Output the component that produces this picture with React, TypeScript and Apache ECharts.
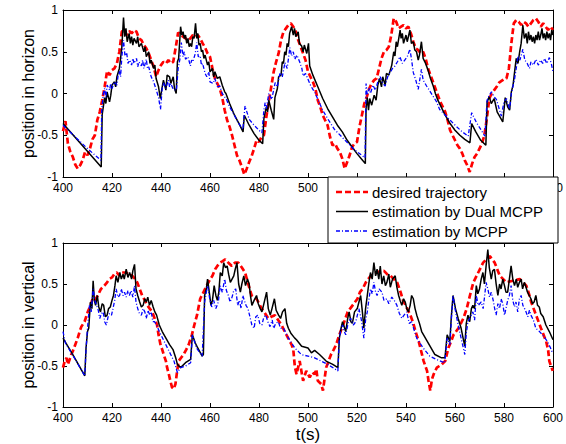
import React, { useEffect, useRef } from "react";
import * as echarts from "echarts";

type P = [number, number];

const xMin = 400, xMax = 600, xStep = 20;
const yMin = -1, yMax = 1, yStep = 0.5;
// top-panel tick labels that the legend box leaves visible
const topVisibleXLabels = [400, 420, 440, 460, 480, 500, 600];

const seriesNames = ["desired trajectory", "estimation by Dual MCPP", "estimation by MCPP"];
const yNames = ["position in horizon", "position in vertical"];
const xName = "t(s)";

// ---- top panel (horizon) ----
const hDesired: P[] = [[400,-0.45],[401,-0.33],[402,-0.6],[403,-0.7],[404,-0.76],[405,-0.85],[406,-0.9],[407,-0.86],[408,-0.8],[409,-0.7],[410,-0.74],[411,-0.66],[412,-0.55],[413,-0.5],[414,-0.32],[415,-0.22],[416,-0.08],[417,0.08],[418,0.27],[419,0.22],[420,0.28],[421,0.3],[422,0.36],[423,0.5],[424,0.74],[425,0.76],[426,0.7],[427,0.75],[428,0.72],[429,0.76],[430,0.74],[431,0.66],[432,0.64],[433,0.58],[434,0.54],[435,0.48],[436,0.4],[437,0.32],[438,0.2],[439,0.28],[440,0.34],[441,0.38],[442,0.36],[443,0.4],[444,0.36],[445,0.38],[446,0.55],[447,0.73],[448,0.7],[449,0.68],[450,0.66],[451,0.64],[452,0.66],[453,0.7],[454,0.68],[455,0.7],[456,0.66],[457,0.6],[458,0.55],[459,0.48],[460,0.44],[461,0.3],[462,0.18],[463,0.12],[464,0.06],[465,-0.05],[466,-0.2],[467,-0.32],[468,-0.4],[469,-0.5],[470,-0.62],[471,-0.74],[472,-0.8],[473,-0.88],[474,-0.97],[475,-0.9],[476,-0.82],[477,-0.75],[478,-0.66],[479,-0.56],[480,-0.58],[481,-0.52],[482,-0.5],[483,-0.28],[484,-0.1],[485,0.08],[486,0.26],[487,0.38],[488,0.48],[489,0.64],[490,0.74],[491,0.78],[492,0.82],[493,0.84],[494,0.8],[495,0.74],[496,0.64],[497,0.56],[498,0.48],[499,0.4],[500,0.26],[501,0.2],[502,0.14],[503,0.06],[504,-0.08],[505,-0.16],[506,-0.26],[507,-0.32],[508,-0.38],[509,-0.52],[510,-0.62],[511,-0.6],[512,-0.66],[513,-0.7],[514,-0.78],[515,-0.9],[516,-0.82],[517,-0.74],[518,-0.64],[519,-0.6],[520,-0.58],[521,-0.4],[522,-0.26],[523,-0.12],[524,-0.04],[525,0.06],[526,0.12],[527,0.16],[528,0.18],[529,0.3],[530,0.42],[531,0.5],[532,0.52],[533,0.56],[534,0.7],[535,0.9],[536,0.86],[537,0.78],[538,0.8],[539,0.82],[540,0.78],[541,0.8],[542,0.72],[543,0.62],[544,0.54],[545,0.52],[546,0.48],[547,0.5],[548,0.42],[549,0.3],[550,0.22],[551,0.14],[552,0.06],[553,-0.02],[554,-0.1],[555,-0.16],[556,-0.22],[557,-0.32],[558,-0.44],[559,-0.5],[560,-0.56],[561,-0.62],[562,-0.66],[563,-0.72],[564,-0.8],[565,-0.86],[566,-0.94],[567,-0.84],[568,-0.76],[569,-0.72],[570,-0.66],[571,-0.6],[572,-0.5],[573,-0.3],[574,-0.06],[575,0.0],[576,0.04],[577,0.08],[578,0.13],[579,0.15],[580,0.17],[581,0.18],[582,0.3],[583,0.6],[584,0.84],[585,0.88],[586,0.86],[587,0.82],[588,0.86],[589,0.84],[590,0.8],[591,0.84],[592,0.88],[593,0.9],[594,0.86],[595,0.8],[596,0.84],[597,0.8],[598,0.76],[599,0.8],[600,0.76]];

const hDual: P[] = [[400,-0.36],[415.6,-0.88],[416,-0.25],[417,-0.05],[417.5,-0.12],[418,0.02],[419,-0.1],[419.5,-0.02],[420,0.1],[421,0.14],[421.5,0.08],[422,0.2],[423,0.3],[423.5,0.42],[424,0.55],[424.7,0.91],[425.2,0.68],[425.7,0.78],[426.2,0.62],[427,0.72],[427.5,0.6],[428,0.68],[428.5,0.58],[429,0.66],[430,0.6],[430.5,0.68],[431,0.56],[432,0.6],[433,0.5],[433.5,0.56],[434,0.44],[435,0.5],[435.5,0.36],[436,0.4],[437,0.3],[437.5,0.34],[438,0.18],[439,0.08],[439.7,-0.06],[440.5,0.08],[441,0.16],[442,0.04],[442.5,0.22],[443.5,0.2],[444,0.12],[445,0.2],[445.5,0.06],[446.2,0.0],[446.7,0.38],[447.2,0.42],[448,0.8],[448.5,0.7],[449,0.74],[449.5,0.66],[450,0.7],[450.5,0.6],[451,0.66],[451.5,0.56],[452,0.6],[452.5,0.56],[453,0.68],[453.5,0.66],[454.1,0.84],[454.6,0.66],[455,0.72],[455.5,0.58],[456,0.6],[456.5,0.5],[457,0.52],[457.5,0.42],[458,0.46],[459,0.34],[459.5,0.38],[460,0.26],[461,0.3],[461.5,0.2],[462,0.26],[463,0.18],[464,0.2],[465,0.1],[466,0.02],[466.5,0.0],[468,-0.12],[470,-0.26],[472,-0.37],[473.5,-0.46],[474,-0.26],[476,-0.38],[478,-0.48],[480,-0.56],[481.5,-0.6],[482,-0.3],[483,-0.16],[483.5,-0.22],[484,-0.08],[485,-0.2],[486,-0.31],[486.5,-0.05],[487.5,0.06],[488,0.2],[489,0.22],[489.5,0.38],[490,0.36],[490.5,0.5],[491,0.46],[491.5,0.6],[492,0.56],[492.5,0.72],[493.3,0.8],[494,0.7],[494.5,0.78],[495,0.68],[496,0.74],[496.5,0.6],[497.4,0.57],[498,0.5],[498.5,0.58],[499.5,0.48],[500.2,0.6],[500.7,0.33],[502,0.22],[504,0.08],[506,-0.06],[508,-0.18],[510,-0.28],[512,-0.38],[514,-0.46],[516,-0.56],[518,-0.64],[520,-0.72],[522,-0.79],[523.4,-0.84],[523.7,-0.18],[524.2,-0.05],[524.7,-0.2],[525.2,-0.06],[526,-0.14],[527,-0.02],[527.8,-0.08],[528.5,0.1],[529.2,0.18],[530,0.08],[530.5,0.2],[531.5,0.1],[532,0.24],[533,0.22],[534.2,0.34],[535,0.5],[535.5,0.45],[536,0.62],[536.5,0.56],[537.6,0.76],[538,0.66],[538.5,0.72],[539,0.6],[540,0.7],[540.5,0.62],[541.6,0.76],[542.2,0.6],[543,0.62],[543.6,0.52],[544.3,0.5],[545,0.4],[545.5,0.46],[546.3,0.62],[547,0.42],[548,0.36],[549,0.28],[550,0.18],[551,0.1],[552,0.0],[553,-0.08],[554,-0.14],[555,-0.2],[556,-0.26],[558,-0.36],[560,-0.44],[562,-0.5],[564,-0.55],[566.1,-0.59],[566.8,-0.36],[568.5,-0.46],[570.5,-0.56],[572.6,-0.62],[573.1,-0.1],[574,-0.04],[574.8,-0.12],[576,-0.06],[577.2,-0.22],[579.5,-0.34],[580.5,-0.05],[581.5,-0.16],[582.3,-0.2],[583,0.02],[583.7,0.1],[584.5,0.3],[585,0.42],[585.7,0.36],[586.4,0.5],[587,0.6],[587.7,0.82],[588.3,0.66],[589,0.72],[589.5,0.6],[590,0.74],[590.5,0.64],[591,0.7],[591.5,0.62],[592,0.68],[592.5,0.6],[593,0.7],[593.5,0.64],[594,0.74],[594.5,0.64],[595,0.7],[595.5,0.78],[596,0.66],[596.5,0.72],[597,0.64],[597.5,0.74],[598,0.66],[598.5,0.72],[599,0.64],[599.5,0.76],[600,0.7]];

const hMcpp: P[] = [[400,-0.38],[405,-0.52],[410,-0.66],[415.5,-0.8],[415.8,-0.2],[416.5,0.0],[417,0.06],[417.5,-0.05],[418,0.1],[419,0.04],[419.5,0.12],[420,0.06],[421,0.14],[422,0.1],[422.5,0.22],[423,0.27],[423.5,0.2],[424,0.43],[424.7,0.64],[425.3,0.45],[426,0.49],[426.5,0.36],[427.3,0.4],[428,0.34],[428.5,0.42],[429,0.36],[430,0.42],[430.5,0.32],[431,0.38],[432,0.33],[432.5,0.4],[433,0.3],[434,0.41],[434.5,0.3],[435,0.32],[436,0.2],[437,0.14],[438,0.05],[439,-0.05],[439.8,-0.19],[440.5,0.06],[441,0.13],[442,0.06],[443,0.16],[443.5,0.08],[444,0.12],[445,0.05],[446.3,0.04],[447,0.3],[447.7,0.41],[448.3,0.61],[449,0.44],[449.5,0.5],[450,0.41],[451,0.44],[452,0.33],[452.5,0.4],[453,0.38],[454,0.48],[454.6,0.61],[455.2,0.44],[456,0.45],[456.5,0.34],[457,0.36],[458,0.24],[458.7,0.2],[459.5,0.26],[460,0.14],[461.3,0.12],[462,0.18],[463,0.08],[464,0.09],[465,0.0],[466.7,-0.07],[468,-0.16],[469.4,-0.23],[471,-0.32],[472,-0.37],[473.4,-0.43],[474.3,-0.15],[476,-0.31],[478,-0.38],[480,-0.44],[481.2,-0.47],[482,-0.2],[482.5,-0.11],[483,-0.18],[484,0.0],[485.2,-0.07],[486.6,0.13],[487.5,0.08],[488.6,0.25],[489.5,0.2],[490.6,0.37],[491.5,0.3],[492.6,0.55],[493.3,0.45],[494,0.5],[494.6,0.41],[495.5,0.46],[496.7,0.37],[497.5,0.3],[498,0.21],[499,0.24],[500,0.17],[501,0.1],[502,0.05],[503,0.0],[504,-0.07],[506,-0.2],[508,-0.3],[510.8,-0.43],[514.8,-0.55],[518.8,-0.67],[523.3,-0.77],[523.7,0.12],[524.2,-0.02],[525,0.06],[525.5,0.0],[526.5,0.1],[527.5,0.04],[528.5,0.14],[529.5,0.2],[530.5,0.12],[531.5,0.09],[532.5,0.2],[533.5,0.25],[534.5,0.3],[535.5,0.33],[536.5,0.38],[537.5,0.44],[538.5,0.36],[539.5,0.4],[540.5,0.44],[541.6,0.53],[542.3,0.4],[543,0.25],[544,0.16],[545,0.05],[546.3,0.29],[547,0.16],[548.4,0.09],[549.5,0.04],[551,-0.03],[552.5,-0.1],[553.7,-0.19],[556.4,-0.27],[558,-0.32],[560.4,-0.39],[563,-0.46],[565.4,-0.51],[566.8,-0.23],[568.8,-0.35],[572.2,-0.51],[573.1,-0.08],[574,-0.02],[574.9,0.02],[576,-0.04],[576.9,-0.07],[578,-0.18],[578.9,-0.27],[580,-0.1],[581,-0.06],[582.3,-0.19],[583,0.0],[584.3,0.17],[585,0.3],[585.7,0.45],[586.5,0.4],[587.7,0.53],[588.5,0.4],[589.5,0.36],[590.4,0.3],[591,0.38],[592,0.34],[593.1,0.41],[594,0.34],[595,0.4],[595.8,0.36],[596.5,0.42],[597.5,0.36],[598.5,0.43],[599.3,0.36],[600,0.26]];

// ---- bottom panel (vertical) ----
const vDesired: P[] = [[400,-0.52],[400.7,-0.44],[401.4,-0.4],[402,-0.48],[402.7,-0.42],[403.4,-0.36],[404,-0.32],[405,-0.24],[406,-0.16],[407,-0.06],[407.5,-0.02],[408.8,0.04],[410.1,0.16],[411,0.22],[412.1,0.32],[413,0.3],[414.2,0.36],[415.5,0.44],[416.9,0.48],[418,0.52],[418.9,0.56],[420,0.58],[420.9,0.62],[422,0.64],[423,0.6],[424,0.64],[425.6,0.64],[427,0.62],[428.3,0.6],[429.5,0.56],[430.3,0.52],[431.3,0.44],[432.3,0.36],[433.4,0.3],[434.4,0.24],[435.4,0.2],[436.4,0.16],[437.4,0.08],[438.4,0.0],[439,-0.12],[439.8,-0.24],[440.5,-0.3],[441.1,-0.36],[442,-0.44],[442.5,-0.52],[443.2,-0.6],[443.8,-0.68],[444.5,-0.76],[445.2,-0.78],[445.9,-0.72],[446.6,-0.56],[447.2,-0.44],[448.2,-0.4],[449.2,-0.36],[450.3,-0.3],[451.3,-0.24],[452.6,-0.12],[453.6,0.0],[454.7,0.12],[456,0.32],[457,0.38],[458,0.44],[459,0.5],[460.1,0.56],[461,0.6],[462.1,0.68],[463,0.72],[464.1,0.76],[465.2,0.78],[466.2,0.8],[467.5,0.76],[468.9,0.72],[470.2,0.76],[471.6,0.76],[473,0.7],[474.3,0.64],[475.6,0.5],[477,0.36],[478,0.34],[479,0.32],[480,0.26],[481.1,0.2],[482.5,0.14],[483.8,0.08],[485,0.1],[486.5,0.12],[487.8,0.06],[489.2,0.0],[490.5,-0.08],[491.9,-0.16],[493.3,-0.24],[494,-0.3],[494.6,-0.5],[495.3,-0.6],[496.6,-0.44],[497.3,-0.56],[498,-0.68],[499.3,-0.56],[500.7,-0.64],[501.7,-0.58],[502.7,-0.6],[503.4,-0.54],[504,-0.68],[505.4,-0.72],[506.1,-0.8],[507.4,-0.52],[508.4,-0.44],[509.4,-0.36],[510.5,-0.3],[511.5,-0.24],[512.8,-0.12],[514.8,0.04],[516.2,0.16],[517.2,0.2],[518.2,0.24],[519.2,0.28],[520.2,0.32],[521.2,0.4],[522.3,0.44],[523.6,0.52],[525.6,0.6],[527,0.62],[528.3,0.64],[529.6,0.66],[531,0.66],[532.3,0.62],[533.7,0.6],[535,0.56],[536.4,0.52],[537.8,0.4],[538.8,0.3],[539.8,0.24],[541.8,0.12],[543,0.02],[543.9,-0.08],[545.2,-0.2],[546.2,-0.32],[547.2,-0.44],[548.6,-0.56],[549.2,-0.68],[549.9,-0.8],[550.6,-0.66],[551.3,-0.6],[552.6,-0.52],[553.6,-0.5],[554.6,-0.48],[556,-0.44],[557.3,-0.28],[558.4,-0.2],[559.4,-0.12],[561.4,-0.04],[563.4,0.08],[564.8,0.2],[566.1,0.36],[567.5,0.52],[569.5,0.64],[571.5,0.76],[572.8,0.8],[574.2,0.84],[576.2,0.76],[578.3,0.6],[581,0.52],[583.7,0.54],[586.4,0.56],[589.1,0.48],[590,0.4],[591.1,0.28],[593.1,0.12],[595.1,-0.04],[597.2,-0.2],[598,-0.3],[598.5,-0.44],[599.2,-0.5],[599.9,-0.56]];

const vDual: P[] = [[400,-0.16],[404,-0.36],[408.9,-0.62],[409.4,-0.28],[410,-0.08],[410.5,-0.04],[411.2,0.28],[411.8,0.2],[412.3,0.54],[412.8,0.3],[413.3,0.24],[414,0.36],[414.6,0.22],[415.3,0.16],[416,0.26],[416.6,0.24],[417.3,0.1],[418,0.12],[418.6,0.2],[419.3,0.22],[420,0.3],[420.6,0.36],[421.2,0.48],[421.7,0.6],[422.4,0.52],[423.2,0.64],[423.8,0.56],[424.5,0.62],[425,0.56],[425.8,0.68],[426.5,0.58],[427.2,0.64],[428,0.56],[428.5,0.66],[429.2,0.74],[429.8,0.44],[430.5,0.36],[431.3,0.28],[432,0.22],[432.7,0.24],[433.4,0.32],[434,0.28],[434.6,0.34],[435.3,0.24],[436,0.3],[436.8,0.22],[437.5,0.16],[438.2,0.12],[439.3,0.0],[440.5,-0.08],[442,-0.16],[443.5,-0.24],[444.9,-0.3],[446,-0.4],[446.7,-0.48],[448,-0.52],[450,-0.46],[452.1,-0.42],[452.8,-0.12],[454,-0.22],[455,-0.28],[456.8,-0.38],[457.3,-0.36],[457.8,0.36],[458.5,0.44],[459,0.56],[459.7,0.4],[460.4,0.24],[461,0.3],[461.7,0.48],[462.4,0.36],[463,0.3],[463.6,0.4],[464.2,0.64],[465,0.6],[465.6,0.76],[466.3,0.7],[467,0.72],[467.6,0.62],[468.3,0.52],[469,0.56],[469.7,0.6],[470.3,0.68],[471,0.76],[471.7,0.5],[472.4,0.4],[473,0.5],[473.8,0.6],[474.5,0.48],[475.3,0.56],[476,0.5],[476.5,0.36],[477.1,0.24],[478,0.3],[479,0.36],[479.7,0.26],[480.5,0.2],[481.2,0.16],[482,0.26],[483.1,0.4],[483.8,0.2],[484.6,0.12],[485.3,0.2],[486.3,0.32],[487,0.18],[488,0.12],[488.8,0.08],[489.6,0.16],[490.6,0.2],[491.3,0.02],[492,-0.04],[493,-0.1],[494.6,-0.16],[495.3,-0.18],[497.4,-0.26],[500,-0.28],[501.4,-0.34],[502.7,-0.31],[504.7,-0.36],[507.4,-0.44],[510.1,-0.48],[512.2,-0.52],[512.8,-0.16],[513.5,-0.04],[514.1,0.04],[515.4,-0.08],[516.2,0.08],[516.8,0.16],[517.5,0.04],[518.1,0.02],[519,0.16],[520.1,0.2],[520.8,0.28],[521.5,0.36],[522.2,0.16],[522.8,-0.04],[523.5,0.2],[524.2,0.36],[524.8,0.5],[525.5,0.64],[526.2,0.56],[526.9,0.76],[527.6,0.6],[528.2,0.68],[528.9,0.56],[529.5,0.72],[530.2,0.5],[530.9,0.6],[531.6,0.48],[532.2,0.52],[533,0.62],[533.6,0.46],[534.5,0.56],[535.6,0.6],[536.3,0.46],[537,0.36],[537.6,0.3],[538.3,0.24],[539,0.32],[539.7,0.28],[540.3,0.2],[541,0.16],[541.7,0.24],[542.3,0.36],[543,0.32],[543.7,0.2],[544.4,0.12],[545.5,0.02],[546.4,-0.08],[549.1,-0.22],[551.8,-0.36],[554.5,-0.4],[555.9,-0.4],[556.8,-0.12],[557.9,-0.2],[558.5,0.1],[559.2,0.36],[560.2,0.2],[561.3,0.08],[562.5,-0.04],[564,-0.26],[564.6,0.02],[565.3,0.12],[566,0.04],[566.7,0.2],[567.3,0.24],[568,0.2],[568.7,0.48],[569.3,0.38],[570,0.44],[570.7,0.56],[571.4,0.64],[572,0.5],[572.7,0.72],[573.4,0.92],[574,0.7],[574.8,0.56],[575.4,0.66],[576.1,0.68],[576.8,0.5],[577.5,0.36],[578.2,0.5],[578.8,0.44],[579.5,0.56],[580.2,0.48],[580.8,0.4],[581.5,0.4],[582.2,0.56],[582.9,0.72],[583.6,0.56],[584.3,0.48],[585,0.56],[585.6,0.46],[586.3,0.52],[587,0.56],[587.6,0.44],[588.3,0.52],[589,0.46],[589.6,0.4],[590.3,0.36],[591,0.32],[591.6,0.26],[592.3,0.28],[593,0.36],[593.7,0.24],[594.4,0.22],[595,0.14],[596,0.1],[597.1,0.0],[598.5,-0.08],[600,-0.18]];

const vMcpp: P[] = [[400,-0.08],[401,-0.22],[405,-0.42],[408.9,-0.62],[409.4,-0.3],[410,-0.04],[410.8,0.24],[411.5,0.16],[412.3,0.44],[413,0.3],[413.7,0.24],[414.4,0.18],[415,0.08],[415.7,0.14],[416.4,0.16],[417,0.04],[417.7,0.0],[418.4,0.1],[419,0.14],[419.8,0.12],[420.4,0.2],[421.1,0.3],[421.7,0.44],[422.4,0.34],[423.1,0.36],[423.8,0.44],[424.5,0.36],[425.1,0.4],[425.8,0.34],[426.5,0.42],[427.1,0.36],[427.8,0.42],[428.5,0.34],[429.2,0.48],[429.8,0.28],[430.5,0.2],[431.2,0.14],[432,0.12],[432.7,0.2],[433.4,0.16],[434,0.08],[434.7,0.18],[435.4,0.12],[436,0.16],[436.7,0.04],[437.4,0.04],[438.5,-0.02],[439.3,-0.08],[441.3,-0.2],[443.3,-0.32],[445.3,-0.44],[446.7,-0.58],[448,-0.52],[450,-0.5],[452.1,-0.46],[452.8,-0.12],[454.5,-0.28],[456.8,-0.38],[457.8,0.28],[458.5,0.4],[459,0.48],[460,0.3],[460.7,0.22],[461.5,0.3],[462.4,0.2],[463.4,0.28],[464.2,0.48],[465,0.4],[466,0.56],[466.7,0.42],[467.5,0.36],[468.2,0.28],[469,0.34],[469.7,0.42],[470.5,0.44],[471.3,0.24],[472,0.3],[472.7,0.2],[473.4,0.36],[474,0.3],[474.7,0.24],[475.5,0.2],[476.3,0.1],[477.1,0.0],[478,-0.04],[478.7,0.1],[479.5,0.12],[480.3,0.02],[481.2,0.0],[482,0.1],[482.8,0.12],[483.6,0.04],[484.5,-0.02],[485.4,0.06],[486,-0.04],[486.8,0.02],[487.9,0.04],[488.8,-0.04],[490,-0.04],[491,-0.1],[492,-0.16],[494.6,-0.28],[497.3,-0.36],[500,-0.38],[502.7,-0.4],[505.4,-0.44],[508,-0.48],[512.2,-0.56],[512.8,-0.16],[513.5,-0.04],[514.1,0.0],[514.8,-0.08],[515.4,-0.12],[516.5,0.04],[517.5,0.08],[518.5,0.0],[519.5,0.04],[520.8,0.2],[521.8,0.06],[522.8,-0.16],[523.5,0.06],[524.2,0.16],[524.8,0.3],[525.5,0.44],[526.2,0.38],[526.9,0.52],[527.6,0.4],[528.2,0.36],[529,0.44],[530.2,0.4],[531,0.3],[532.2,0.32],[533,0.26],[534.2,0.34],[535.2,0.3],[536.3,0.24],[537.3,0.14],[538.3,0.08],[539.2,0.12],[540.3,0.16],[541.3,0.02],[542.3,0.04],[543.3,-0.06],[544.4,-0.16],[547,-0.28],[549.7,-0.38],[552.4,-0.42],[555.8,-0.46],[556.8,-0.16],[557.9,-0.24],[558.6,0.1],[559.2,0.36],[560,0.2],[561.3,0.0],[562.5,-0.16],[564,-0.36],[564.6,-0.1],[565.3,0.04],[566.3,0.1],[567.3,0.16],[568,0.06],[568.7,0.36],[569.5,0.24],[570.7,0.28],[571.5,0.2],[572.2,0.38],[572.7,0.52],[573.4,0.44],[574.1,0.34],[574.8,0.4],[575.6,0.3],[576.2,0.2],[576.8,0.12],[577.5,0.26],[578.2,0.2],[578.8,0.32],[579.5,0.26],[580.2,0.12],[580.8,0.2],[581.5,0.3],[582.2,0.36],[582.9,0.48],[583.6,0.3],[584.3,0.22],[584.9,0.28],[585.6,0.16],[586.3,0.32],[587,0.36],[587.7,0.24],[588.4,0.2],[589,0.16],[589.7,0.1],[590.4,0.18],[591,0.12],[592,0.06],[593,-0.04],[594.5,-0.08],[595.7,-0.12],[597.7,-0.2],[599,-0.28],[599.8,-0.34]];

const FONT = "Liberation Sans, Arial, sans-serif";
const RED = "#ff0000";
const BLACK = "#000000";
const BLUE = "#0000ff";

const styles = [
  { color: RED, width: 2.7, type: [6, 3] as any },
  { color: BLACK, width: 1.5, type: "solid" as any },
  { color: BLUE, width: 1.3, type: [4, 2, 1, 2] as any },
];

function xAx(grid: number, pos: "bottom" | "top", withLabel: boolean, name?: string, visible?: number[]) {
  return {
    type: "value", gridIndex: grid, position: pos, min: xMin, max: xMax, interval: xStep,
    name: name || "", nameLocation: "middle", nameGap: 19, nameMoveOverlap: false,
    nameTextStyle: { fontFamily: FONT, fontSize: 17, color: BLACK },
    axisLine: { show: true, onZero: false, lineStyle: { color: BLACK, width: 1 } },
    axisTick: { show: true, inside: true, length: 4, lineStyle: { color: BLACK } },
    axisLabel: {
      show: withLabel, fontFamily: FONT, fontSize: 12, color: BLACK, margin: 5,
      showMaxLabel: true, showMinLabel: true,
      formatter: (v: number) => (visible && visible.indexOf(v) < 0 ? "" : String(v)),
    },
    splitLine: { show: false },
  };
}
function yAx(grid: number, pos: "left" | "right", withLabel: boolean, name?: string) {
  return {
    type: "value", gridIndex: grid, position: pos, min: yMin, max: yMax, interval: yStep,
    name: name || "", nameLocation: "middle", nameGap: 27, nameRotate: 90, nameMoveOverlap: false,
    nameTextStyle: { fontFamily: FONT, fontSize: 16, color: BLACK },
    axisLine: { show: true, onZero: false, lineStyle: { color: BLACK, width: 1 } },
    axisTick: { show: true, inside: true, length: 4, lineStyle: { color: BLACK } },
    axisLabel: { show: withLabel, fontFamily: FONT, fontSize: 12, color: BLACK, margin: 5 },
    splitLine: { show: false },
  };
}

function line(name: string, data: P[], k: number, axis: number) {
  return {
    type: "line", name, data, xAxisIndex: axis, yAxisIndex: axis,
    symbol: "none", showSymbol: false, smooth: false,
    lineStyle: { color: styles[k].color, width: styles[k].width, type: styles[k].type },
    itemStyle: { color: styles[k].color },
    z: 2 + k,
  };
}

export default function App() {
  const ref = useRef<HTMLDivElement>(null);
  useEffect(() => {
    if (!ref.current) return;
    const chart = echarts.init(ref.current, null, { renderer: "svg" });
    const lx0 = 336, lx1 = 368, tx = 372;
    const rows = [192, 211.5, 231];
    const legend: any[] = [
      { type: "rect", z: 100, shape: { x: 328, y: 177, width: 230, height: 66 },
        style: { fill: "#fff", stroke: BLACK, lineWidth: 1 } },
    ];
    rows.forEach((y, i) => {
      legend.push({ type: "line", z: 101, shape: { x1: lx0, y1: y, x2: lx1, y2: y },
        style: { stroke: styles[i].color, lineWidth: Math.min(styles[i].width, 2.5), lineDash: styles[i].type === "solid" ? null : styles[i].type } });
      legend.push({ type: "text", z: 101, x: tx, y, style: { text: seriesNames[i], fontFamily: FONT, fontSize: 15, fill: BLACK, verticalAlign: "middle", align: "left" } });
    });
    chart.setOption({
      animation: false,
      backgroundColor: "#fff",
      grid: [
        { left: 63, top: 10, width: 494, height: 167 },
        { left: 63, top: 243, width: 494, height: 167 },
      ],
      xAxis: [
        xAx(0, "bottom", true, "", topVisibleXLabels),
        xAx(0, "top", false),
        xAx(1, "bottom", true, xName),
        xAx(1, "top", false),
      ],
      yAxis: [yAx(0, "left", true, yNames[0]), yAx(0, "right", false), yAx(1, "left", true, yNames[1]), yAx(1, "right", false)],
      series: [
        line(seriesNames[0], hDesired, 0, 0),
        line(seriesNames[1], hDual, 1, 0),
        line(seriesNames[2], hMcpp, 2, 0),
        line(seriesNames[0], vDesired, 0, 2),
        line(seriesNames[1], vDual, 1, 2),
        line(seriesNames[2], vMcpp, 2, 2),
      ],
      graphic: legend,
    });
    return () => chart.dispose();
  }, []);
  return <div ref={ref} style={{ position: "fixed", left: 0, top: 0, width: 566, height: 444, background: "#fff" }} />;
}
